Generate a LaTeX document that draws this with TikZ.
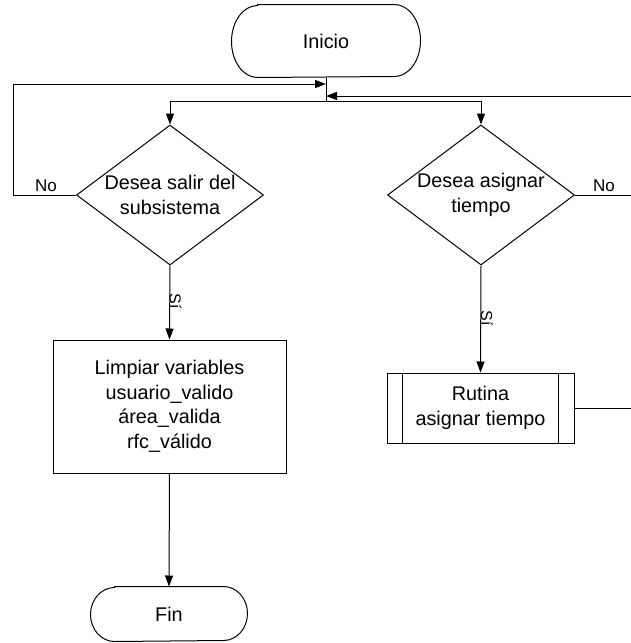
\documentclass[tikz,border=0pt]{standalone}
\usepackage{fontspec}
\setmainfont{Liberation Sans}
\usetikzlibrary{shapes.geometric,arrows.meta}

% outline of a terminator: flat top and bottom, elliptical ends
\newcommand\termoutline[3]{%
  \draw ([xshift=#2]#1.north west) -- ([xshift=-#2]#1.north east)
    arc[start angle=90,end angle=-90,x radius=#2,y radius=#3]
    -- ([xshift=#2]#1.south west)
    arc[start angle=270,end angle=90,x radius=#2,y radius=#3] -- cycle;}

\tikzset{
  every path/.style={line width=1pt},
  txt/.style={font=\fontsize{19.8}{24.5}\selectfont, align=center, inner sep=0pt},
  term/.style={txt, draw=none, rectangle},
  decision/.style={txt, draw, diamond, aspect=1.33, minimum width=187pt, minimum height=140pt},
  process/.style={txt, draw, rectangle},
  lbl/.style={font=\fontsize{17}{19}\selectfont, inner sep=0pt},
  silbl/.style={font=\fontsize{16}{18}\selectfont, inner sep=0pt, rotate=-90, anchor=base},
  arr/.style={-{Triangle[length=11pt,width=8pt]}}
}

\begin{document}
\begin{tikzpicture}[x=1pt,y=-1pt]
\useasboundingbox (0,0) rectangle (630,643);

% nodes
\node[term, minimum width=188pt, minimum height=72pt] (inicio) at (326,41) {Inicio};
\termoutline{inicio}{26pt}{36pt}

\node[decision] (dsal) at (170,195) {Desea salir del\\subsistema};
\node[decision] (dasig) at (481,195) {Desea asignar\\tiempo};

\node[process, minimum width=233pt, minimum height=133pt] (limp) at (169.5,406.5)
  {Limpiar variables\\usuario\_valido\\área\_valida\\rfc\_válido};

\node[process, minimum width=187pt, minimum height=70pt] (rut) at (480.5,408)
  {Rutina\\asignar tiempo};
\draw ([xshift=16pt]rut.north west) -- ([xshift=16pt]rut.south west);
\draw ([xshift=-16pt]rut.north east) -- ([xshift=-16pt]rut.south east);

\node[term, minimum width=156pt, minimum height=54pt] (fin) at (169,614) {Fin};
\termoutline{fin}{24pt}{27pt}

% junction points on the trunk below Inicio
\coordinate (jsplit) at (326,101);
\coordinate (jleft) at (326,84);
\coordinate (jright) at (326,96);
\coordinate (loopL) at (13,84);
\coordinate (loopR) at (645,96);

% trunk and split to both decisions
\draw (inicio.south) -- (jsplit);
\draw[arr] (jsplit) -| (dsal.north);
\draw[arr] (jsplit) -| (dasig.north);

% "No" loops back to the trunk
\draw[arr] (dsal.west) -| (loopL) -- (jleft);
\node[lbl] (nol) at (46,186) {No};
\draw[arr] (dasig.east) -| (loopR) -- (jright);
\node[lbl] (nor) at (604,186) {No};
\draw (rut.east) -| (loopR);

% "Sí" branches
\draw[arr] (dsal.south) -- (limp.north);
\node[silbl] (sil) at (169.5,301) {Sí};
\draw[arr] (dasig.south) -- (rut.north);
\node[silbl] (sir) at (481,318) {Sí};

% end
\draw[arr] (limp.south) -- (fin.north);
\end{tikzpicture}
\end{document}
